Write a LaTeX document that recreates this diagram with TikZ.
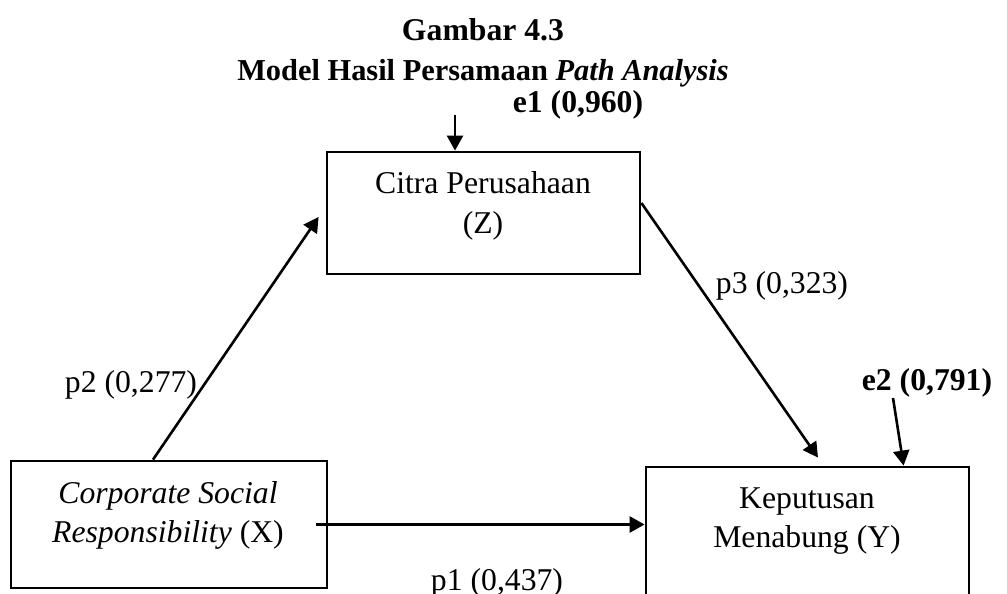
\documentclass[tikz,border=0pt]{standalone}
\usepackage{fontspec}
\setmainfont{Liberation Serif}
\usetikzlibrary{arrows.meta,calc}
\begin{document}
\begin{tikzpicture}[x=0.5pt,y=-0.5pt,
  every node/.style={font=\fontsize{15.85pt}{20.3pt}\selectfont},
  boxnode/.style={draw,line width=1.4pt,inner sep=0pt},
  txt/.style={anchor=base,inner sep=0pt},
  arr/.style={line width=1.3pt,-{Triangle[length=7.5pt,width=8pt]}}]
\useasboundingbox (0,0) rectangle (1007,594);
\clip (0,0) rectangle (1007,594);
% title
\node[txt,font=\fontsize{15.85pt}{20.3pt}\selectfont\bfseries] (t1) at (483,40) {Gambar 4.3};
\node[txt,font=\fontsize{15.2pt}{19pt}\selectfont\bfseries] (t2) at (483,80) {Model Hasil Persamaan \textit{Path Analysis}};
% boxes
\node[boxnode,minimum width=156.5pt,minimum height=61pt] (Z) at (483.5,213) {};
\node[boxnode,minimum width=158pt,minimum height=63.5pt] (X) at (169,524.5) {};
\node[boxnode,minimum width=161.5pt,minimum height=70pt] (Y) at (807.5,537) {};
% box texts
\node[txt] (z1) at (483,193) {Citra Perusahaan};
\node[txt] (z2) at (483,233) {(Z)};
\node[txt] (x1) at (168,503) {\textit{Corporate Social}};
\node[txt] (x2) at (168,542) {\textit{Responsibility} (X)};
\node[txt] (y1) at (807,508) {Keputusan};
\node[txt] (y2) at (807,547) {Menabung (Y)};
% labels
\node[txt,font=\fontsize{15.85pt}{20.3pt}\selectfont\bfseries] (le1) at (578,112) {e1 (0,960)};
\node[txt,font=\fontsize{15.85pt}{20.3pt}\selectfont\bfseries] (le2) at (927,390) {e2 (0,791)};
\node[txt] (lp2) at (131,392) {p2 (0,277)};
\node[txt] (lp3) at (782,293) {p3 (0,323)};
\node[txt] (lp1) at (497,590) {p1 (0,437)};
% connectors
\coordinate (e1s) at (455,115);
\coordinate (e2s) at (893,398);
\draw[arr] (e1s) -- (e1s |- Z.north);
\draw[arr] ($(X.north)+(-16,0)$) -- ($(Z.west)+(-7,4)$);
\draw[arr] ($(Z.east)+(0,-10)$) -- ($(Y.north)+(10.5,-8)$);
\draw[arr] (e2s) -- ($(Y.north west)+(259,0)$);
\draw[arr] ($(X.east)+(-12,0)$) -- (X.east -| Y.west);
\end{tikzpicture}
\end{document}
